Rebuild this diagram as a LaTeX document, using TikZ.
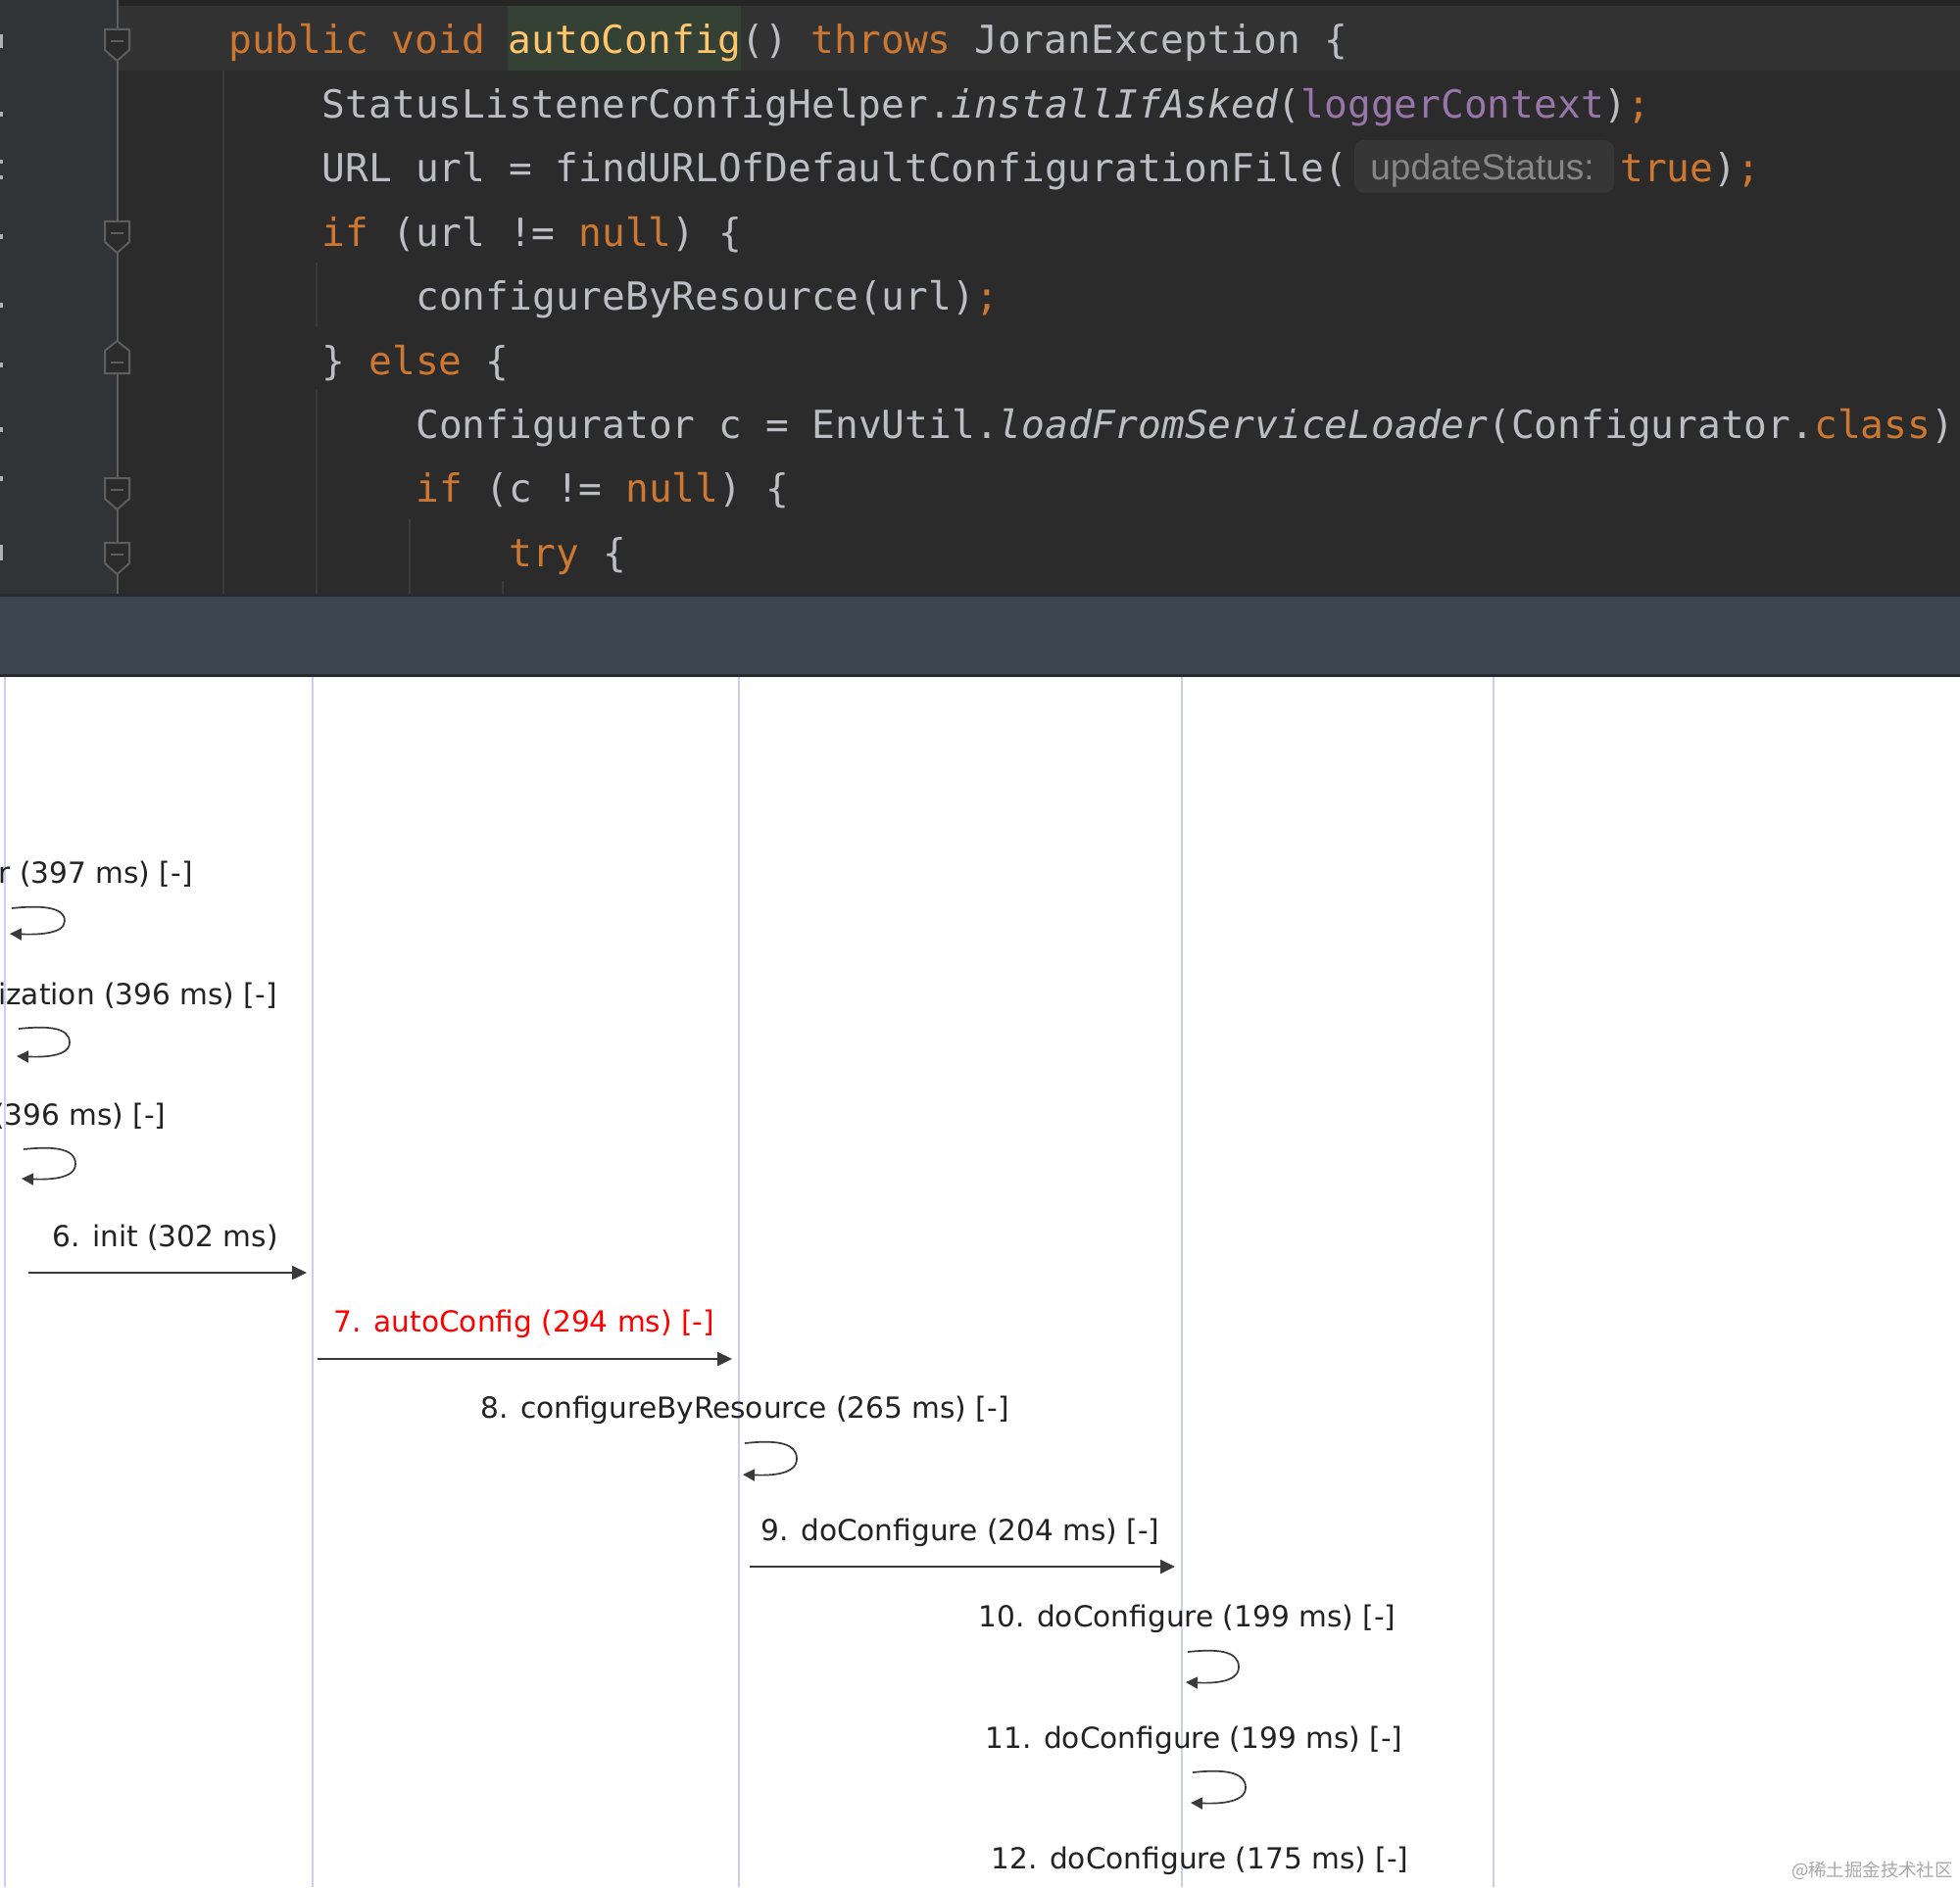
\documentclass[tikz,border=0pt]{standalone}
\usepackage{fontspec}
\usetikzlibrary{arrows.meta}
\newfontfamily\codefont{DejaVu Sans Mono}
\newfontfamily\umlfont{DejaVu Sans}
\newfontfamily\hintfont{Liberation Sans}
\newfontfamily\cjkfont{Noto Sans CJK SC}
\definecolor{codebg}{HTML}{2B2B2B}
\definecolor{gutterbg}{HTML}{313335}
\definecolor{curline}{HTML}{323232}
\definecolor{topstrip}{HTML}{262626}
\definecolor{kw}{HTML}{CC7832}
\definecolor{tx}{HTML}{BCBEC4}
\definecolor{fn}{HTML}{FFC66D}
\definecolor{pu}{HTML}{9876AA}
\definecolor{hl}{HTML}{344134}
\definecolor{hintbg}{HTML}{363636}
\definecolor{hinttx}{HTML}{878787}
\definecolor{foldc}{HTML}{5E5E5E}
\definecolor{guide}{HTML}{3A3A3A}
\definecolor{band}{HTML}{3C4651}
\definecolor{bandedge}{HTML}{272B30}
\definecolor{life}{HTML}{CDCDF3}
\definecolor{msg}{HTML}{3A3A3A}
\definecolor{lbl}{HTML}{222222}
\definecolor{wm}{HTML}{A8A8A8}
\newcommand{\kwd}[1]{\textcolor{kw}{#1}}
\newcommand{\fnc}[1]{\textcolor{fn}{#1}}
\newcommand{\pur}[1]{\textcolor{pu}{#1}}
\newcommand{\foldDown}[1]{%
  \draw[foldmark] (107,#1-12) -- (132,#1-12) -- (132,#1+9) -- (119.5,#1+20) -- (107,#1+9) -- cycle;
  \draw[foldc, line width=1pt] (113,#1) -- (126,#1);}
\newcommand{\foldUp}[1]{%
  \draw[foldmark] (107,#1+11) -- (132,#1+11) -- (132,#1-12) -- (119.5,#1-22) -- (107,#1-12) -- cycle;
  \draw[foldc, line width=1pt] (113,#1) -- (126,#1);}
\newcommand{\selfLoop}[5]{% x0 xr yt yb name
  \coordinate (#5s) at (#1+2,#3);
  \coordinate (#5e) at (#1,#4);
  \draw[selfloop] (#5s) .. controls (#1+30,#3-3) and (#2,#3-2) .. (#2,{(#3+#4)/2})
     .. controls (#2,#4+1) and (#1+25,#4+1) .. (#5e);}
\tikzset{
  codeline/.style={anchor=base west, inner sep=0pt, text=tx, font=\codefont\fontsize{19.75pt}{24pt}\selectfont},
  msglabel/.style={anchor=base, inner sep=0pt, text=lbl, font=\umlfont\fontsize{14.8pt}{18pt}\selectfont},
  lifeline/.style={draw=life, line width=1pt},
  msgarrow/.style={draw=msg, line width=1.2pt, -{Triangle[length=7.5pt,width=7pt]}},
  selfloop/.style={draw=msg, line width=0.85pt, -{Triangle[length=6pt,width=6pt]}},
  foldmark/.style={draw=foldc, fill=codebg, line width=1pt},
}
\begin{document}
\begin{tikzpicture}[x=0.5pt,y=-0.5pt]
\useasboundingbox (0,0) rectangle (2000,1926);
\fill[white] (0,0) rectangle (2000,1926);
% editor background
\fill[codebg] (0,0) rectangle (2000,609);
\fill[gutterbg] (0,0) rectangle (120,609);
\fill[topstrip] (120,0) rectangle (2000,6);
\fill[curline] (120,6) rectangle (2000,72);
\fill[hl] (518.4,6) rectangle (756.2,72);
% gutter remnants at left edge
\foreach \yy/\hh in {35/14,114/5,163/4,179/4,239/5,309/5,370/5,436/5,486/5,556/16}
  \fill[gray!60] (0,\yy) rectangle (2.5,\yy+\hh);
% indent guides
\draw[guide, line width=1pt] (228,72) -- (228,609);
\draw[guide, line width=1pt] (323,268) -- (323,333);
\draw[guide, line width=1pt] (323,397) -- (323,609);
\draw[guide, line width=1pt] (418,530) -- (418,609);
\draw[guide, line width=1pt] (513,593) -- (513,609);
% fold line and markers
\draw[foldc, line width=1pt] (119.5,0) -- (119.5,609);
\foldDown{42}
\foldDown{238}
\foldUp{370}
\foldDown{500}
\foldDown{566}
% code lines
\node[codeline] (c1) at (233,55) {\kwd{public void }\fnc{autoConfig}() \kwd{throws }JoranException \{};
\node[codeline] (c2) at (328.5,120.4) {StatusListenerConfigHelper.{\itshape installIfAsked}(\pur{loggerContext})\kwd{;}};
\node[codeline] (c3) at (328.5,185.8) {URL url = findURLOfDefaultConfigurationFile(};
\fill[hintbg, rounded corners=5pt] (1382,143) rectangle (1647,197);
\node[anchor=base west, inner sep=0pt, text=hinttx, font=\hintfont\fontsize{18.5pt}{22pt}\selectfont] (hint) at (1398,184) {updateStatus:};
\node[codeline] (c3b) at (1653,185.8) {\kwd{true})\kwd{;}};
\node[codeline] (c4) at (328.5,251.2) {\kwd{if }(url != \kwd{null}) \{};
\node[codeline] (c5) at (424,316.6) {configureByResource(url)\kwd{;}};
\node[codeline] (c6) at (328.5,382) {\} \kwd{else }\{};
\node[codeline] (c7) at (424,447.4) {Configurator c = EnvUtil.{\itshape loadFromServiceLoader}(Configurator.\kwd{class})};
\node[codeline] (c8) at (424,512.8) {\kwd{if }(c != \kwd{null}) \{};
\node[codeline] (c9) at (519.5,578.2) {\kwd{try }\{};
% separator band
\fill[bandedge] (0,606) rectangle (2000,609);
\fill[band] (0,609) rectangle (2000,688);
\fill[bandedge] (0,688) rectangle (2000,691);
% lifelines
\foreach \lx/\nm in {5/A,319/B,754/C,1206/D,1524/E}{
  \coordinate (\nm top) at (\lx,691);
  \coordinate (\nm bot) at (\lx,1926);
  \draw[lifeline] (\nm top) -- (\nm bot);
}
% messages
\node[msglabel, anchor=base east] (m3) at (197,901) {r (397 ms) [-]};
\selfLoop{10}{66}{927}{953}{l3}
\node[msglabel, anchor=base east] (m4) at (283,1025) {ization (396 ms) [-]};
\selfLoop{17}{71}{1050}{1078}{l4}
\node[msglabel, anchor=base east] (m5) at (170,1148) {(396 ms) [-]};
\selfLoop{22}{77}{1173}{1203}{l5}
\node[msglabel] (m6) at (168.5,1272) {6. init (302 ms)};
\coordinate (a6s) at (29,1299);
\coordinate (a6e) at (313,1299);
\draw[msgarrow] (a6s) -- (a6e);
\node[msglabel, text=red] (m7) at (535,1359) {7. autoConfig (294 ms) [-]};
\coordinate (a7s) at (324,1387);
\coordinate (a7e) at (747,1387);
\draw[msgarrow] (a7s) -- (a7e);
\node[msglabel] (m8) at (760,1447) {8. configureByResource (265 ms) [-]};
\selfLoop{758}{813}{1473}{1505}{l8}
\node[msglabel] (m9) at (980,1572) {9. doConfigure (204 ms) [-]};
\coordinate (a9s) at (765,1599);
\coordinate (a9e) at (1199,1599);
\draw[msgarrow] (a9s) -- (a9e);
\node[msglabel] (m10) at (1211.5,1660) {10. doConfigure (199 ms) [-]};
\selfLoop{1210}{1264}{1686}{1717}{l10}
\node[msglabel] (m11) at (1218.5,1784) {11. doConfigure (199 ms) [-]};
\selfLoop{1215}{1271}{1809}{1840}{l11}
\node[msglabel] (m12) at (1224.5,1907) {12. doConfigure (175 ms) [-]};
% watermark
\node[anchor=base east, inner sep=0pt, text=wm, font=\cjkfont\fontsize{9.2pt}{11pt}\selectfont] (wmk) at (1993,1915) {@稀土掘金技术社区};
\end{tikzpicture}
\end{document}
